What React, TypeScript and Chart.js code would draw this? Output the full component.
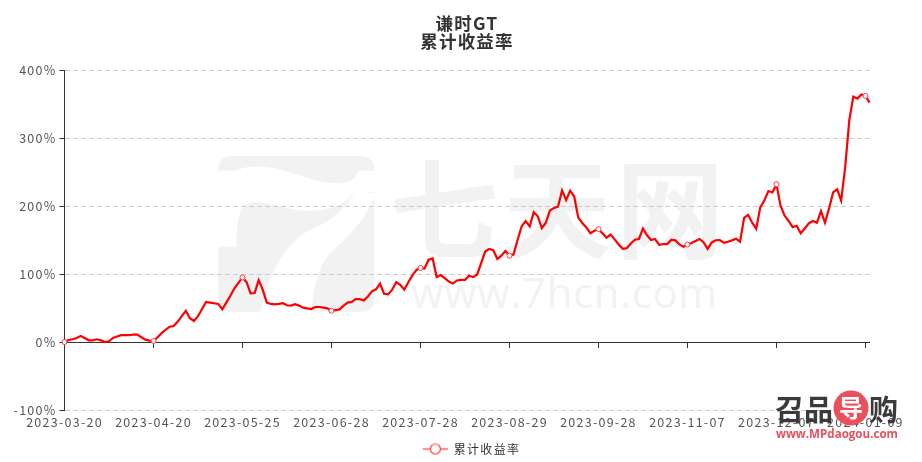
import React, { useEffect, useRef } from "react";
import { Chart, registerables } from "chart.js";

Chart.register(...registerables);

const tickDates = [
  "2023-03-20", "2023-04-20", "2023-05-25", "2023-06-28", "2023-07-28",
  "2023-08-29", "2023-09-28", "2023-11-07", "2023-12-07", "2024-01-09",
];

const returnsA = [
  0, 3, 4, 6, 9, 6, 2.5, 2.5, 4, 2.5, 0, 1, 6, 8, 10, 10, 10, 11, 11, 7, 3.5, 2,
  1.5, 7, 13, 18, 22.5, 23.5, 30, 38, 46, 35, 31, 38, 48.5, 59, 58, 57, 56, 48, 58, 68, 79, 87,
  95, 88, 71.5, 72, 91, 77, 58, 56, 55.5, 56, 57, 54, 53.5, 55.5, 53.5, 50.5, 49.5, 48.5, 51.5, 51.5, 50.5, 49.5,
];
const returnsB = [
  46, 47, 48, 53.5, 58, 59, 63, 63, 61, 67, 74.5, 77.5, 86, 71, 70, 77, 88, 84, 77, 88, 98, 106,
  109, 108, 121, 123, 95.5, 98.5, 94, 89, 86, 90.5, 91.5, 91.5, 97.5, 95.5, 99, 116, 133, 137, 135, 122, 127, 134,
  127, 128.5, 150, 170, 178, 170, 191, 185, 167.5, 175.5, 193.5, 197, 199, 223, 209, 222.5, 214, 183, 175, 168.5, 160, 163.5,
];
const returnsC = [
  166, 160, 153.5, 158, 151, 143.5, 137, 138, 145, 150.5, 151.5, 167, 157, 150, 151.5, 143, 144, 144, 150.5, 149.5, 143.5, 140,
  143.5, 145.5, 148.5, 151.5, 146.5, 137, 146.5, 149.5, 150, 146, 147.5, 149.5, 152, 147.5, 182.5, 187, 175.5, 166.5, 198, 208, 222, 220,
  232, 201, 186, 178, 169, 171, 160, 167, 174.5, 178, 175.5, 192.5, 175.5, 196.5, 220, 224.5, 208, 258, 326, 361, 358, 364,
  362, 352,
];
const cumulativeReturn = [...returnsA, ...returnsB, ...returnsC];

const seriesName = "累计收益率";
const titleLines = ["谦时GT", seriesName];
const yMin = -100;
const yMax = 400;
const yStep = 100;
const tickEvery = 22;

const FONT = "'Noto Sans CJK SC', 'Open Sans', sans-serif";
const RED = "#ff0000";
const MARK = "#ff3b3b";
const WM = "#f2f2f2";
const SPACING = "1.25px";

const labels = cumulativeReturn.map((_, i) =>
  i % tickEvery === 0 ? tickDates[i / tickEvery] : ""
);

const keepLabelled = (scale: any) => {
  scale.ticks = scale.ticks.filter((t: any) => t.value % tickEvery === 0);
};

function legendSymbol() {
  const c = document.createElement("canvas");
  c.width = 34;
  c.height = 13;
  const g = c.getContext("2d")!;
  g.strokeStyle = MARK;
  g.lineWidth = 1.2;
  g.beginPath();
  g.moveTo(9, 6.5);
  g.lineTo(34, 6.5);
  g.stroke();
  g.beginPath();
  g.arc(21.5, 6.5, 5, 0, Math.PI * 2);
  g.fillStyle = "#fff";
  g.fill();
  g.stroke();
  return c;
}

const spacingPlugin = {
  id: "spacing",
  beforeUpdate(chart: any) {
    chart.ctx.letterSpacing = SPACING;
  },
  afterLayout(chart: any) {
    chart.legend.top += 3;
  },
};

const watermarkPlugin = {
  id: "watermark",
  beforeDraw(chart: any) {
    const g = chart.ctx as CanvasRenderingContext2D;
    g.save();
    g.letterSpacing = "0px";
    g.save();
    g.translate(210, 150);
    g.scale(1 / 3, 1 / 3);
    g.fillStyle = WM;
    g.beginPath();
    g.roundRect(25, 18, 468, 467, 36);
    g.fill();
    g.fillStyle = "#fff";
    g.beginPath();
    g.moveTo(20, 62);
    g.lineTo(80, 62);
    g.quadraticCurveTo(100, 50, 130, 50);
    g.bezierCurveTo(220, 45, 300, 100, 380, 100);
    g.quadraticCurveTo(435, 100, 445, 62);
    g.lineTo(500, 62);
    g.lineTo(500, 125);
    g.lineTo(430, 130);
    g.bezierCurveTo(400, 170, 340, 190, 260, 180);
    g.bezierCurveTo(200, 170, 150, 150, 120, 158);
    g.bezierCurveTo(90, 165, 80, 200, 80, 290);
    g.lineTo(20, 290);
    g.closePath();
    g.fill();
    g.beginPath();
    g.moveTo(435, 125);
    g.lineTo(497, 130);
    g.bezierCurveTo(470, 200, 430, 250, 370, 300);
    g.bezierCurveTo(330, 340, 310, 400, 305, 490);
    g.lineTo(150, 490);
    g.bezierCurveTo(175, 380, 220, 280, 300, 240);
    g.bezierCurveTo(340, 225, 400, 190, 435, 125);
    g.closePath();
    g.fill();
    g.restore();
    g.fillStyle = WM;
    g.textAlign = "left";
    g.textBaseline = "alphabetic";
    g.font = `bold 108px ${FONT}`;
    g.letterSpacing = "5px";
    g.fillText("七天网", 390, 250);
    g.font = "42px 'Open Sans', sans-serif";
    g.letterSpacing = "0.6px";
    g.fillText("www.7hcn.com", 411, 308);
    g.restore();
    g.letterSpacing = SPACING;
  },
  afterDraw(chart: any) {
    const g = chart.ctx as CanvasRenderingContext2D;
    g.save();
    g.letterSpacing = "0px";
    g.textBaseline = "alphabetic";
    g.textAlign = "left";
    g.fillStyle = "#3a3a3a";
    g.font = `bold 29px ${FONT}`;
    g.fillText("召品", 775, 421);
    g.fillText("购", 869, 421);
    g.fillStyle = "#e8505b";
    g.beginPath();
    g.arc(851, 408, 17.5, 0, Math.PI * 2);
    g.fill();
    g.fillStyle = "#fff";
    g.font = `bold 24px ${FONT}`;
    g.fillText("导", 839, 417);
    g.fillStyle = "#e8505b";
    g.font = "bold 13px 'Open Sans', sans-serif";
    g.fillText("www.MPdaogou.com", 776, 438, 122);
    g.restore();
  },
};

export default function App() {
  const ref = useRef<HTMLCanvasElement | null>(null);

  useEffect(() => {
    const symbol = legendSymbol();
    const chart = new Chart(ref.current!, {
      type: "line",
      data: {
        labels,
        datasets: [
          {
            label: seriesName,
            data: cumulativeReturn,
            borderColor: RED,
            borderWidth: 2.2,
            tension: 0,
            pointStyle: "circle",
            pointRadius: (c: any) => (c.dataIndex % tickEvery === 0 ? 2.5 : 0),
            pointBackgroundColor: "#fff",
            pointBorderColor: MARK,
            pointBorderWidth: 1,
            clip: false,
            xAxisID: "x",
            yAxisID: "y",
          },
        ],
      },
      options: {
        animation: false,
        responsive: false,
        devicePixelRatio: 1,
        layout: { padding: { left: 12, right: 0, top: 0, bottom: 0 } },
        plugins: {
          tooltip: { enabled: false },
          title: {
            display: true,
            text: titleLines,
            color: "#333",
            font: { family: FONT, size: 17.5, weight: "bold", lineHeight: 1.03 },
            padding: { top: 14, bottom: 20 },
          },
          legend: {
            display: true,
            position: "bottom",
            labels: {
              color: "#333",
              font: { family: FONT, size: 12 },
              usePointStyle: true,
              pointStyleWidth: 34,
              boxHeight: 12,
              padding: 0,
              generateLabels: () => [
                {
                  text: seriesName,
                  pointStyle: symbol as any,
                  fontColor: "#333",
                  lineWidth: 0,
                  datasetIndex: 0,
                } as any,
              ],
            },
          },
        },
        scales: {
          x: {
            type: "category",
            position: "bottom",
            offset: false,
            grid: { display: false, drawTicks: false },
            border: { display: false },
            afterBuildTicks: keepLabelled,
            afterFit: (s: any) => {
              s.height = 30;
            },
            ticks: {
              autoSkip: false,
              maxRotation: 0,
              minRotation: 0,
              padding: 5,
              color: "#555",
              font: { family: FONT, size: 12.5 },
            },
          },
          x2: {
            type: "category",
            labels,
            position: { y: 0 } as any,
            offset: false,
            afterBuildTicks: keepLabelled,
            grid: {
              drawOnChartArea: false,
              drawTicks: true,
              tickLength: 5,
              tickColor: "#333",
              tickWidth: 1,
            },
            border: { display: true, color: "#333", width: 1 },
            ticks: { display: false, autoSkip: false, maxRotation: 0 },
          },
          y: {
            min: yMin,
            max: yMax,
            position: "left",
            afterFit: (s: any) => {
              s.width = 52.5;
            },
            grid: {
              color: "#ccc",
              lineWidth: 1,
              tickColor: "#333",
              tickLength: 5,
              tickBorderDash: [],
            },
            border: { display: true, color: "#333", width: 1, dash: [5, 3] },
            ticks: {
              stepSize: yStep,
              padding: 3,
              color: "#555",
              font: { family: FONT, size: 12.5 },
              callback: (v: any) => `${v}%`,
            },
          },
          y2: {
            type: "linear",
            position: "right",
            min: yMin,
            max: yMax,
            afterFit: (s: any) => {
              s.width = 52.5;
            },
            grid: { display: false, drawTicks: false },
            border: { display: false },
            ticks: { display: false },
          },
        },
      },
      plugins: [spacingPlugin, watermarkPlugin],
    } as any);
    return () => chart.destroy();
  }, []);

  return (
    <div style={{ position: "fixed", left: 0, top: 0, width: 922, height: 462, background: "#fff" }}>
      <canvas ref={ref} width={922} height={462} style={{ display: "block" }} />
    </div>
  );
}
